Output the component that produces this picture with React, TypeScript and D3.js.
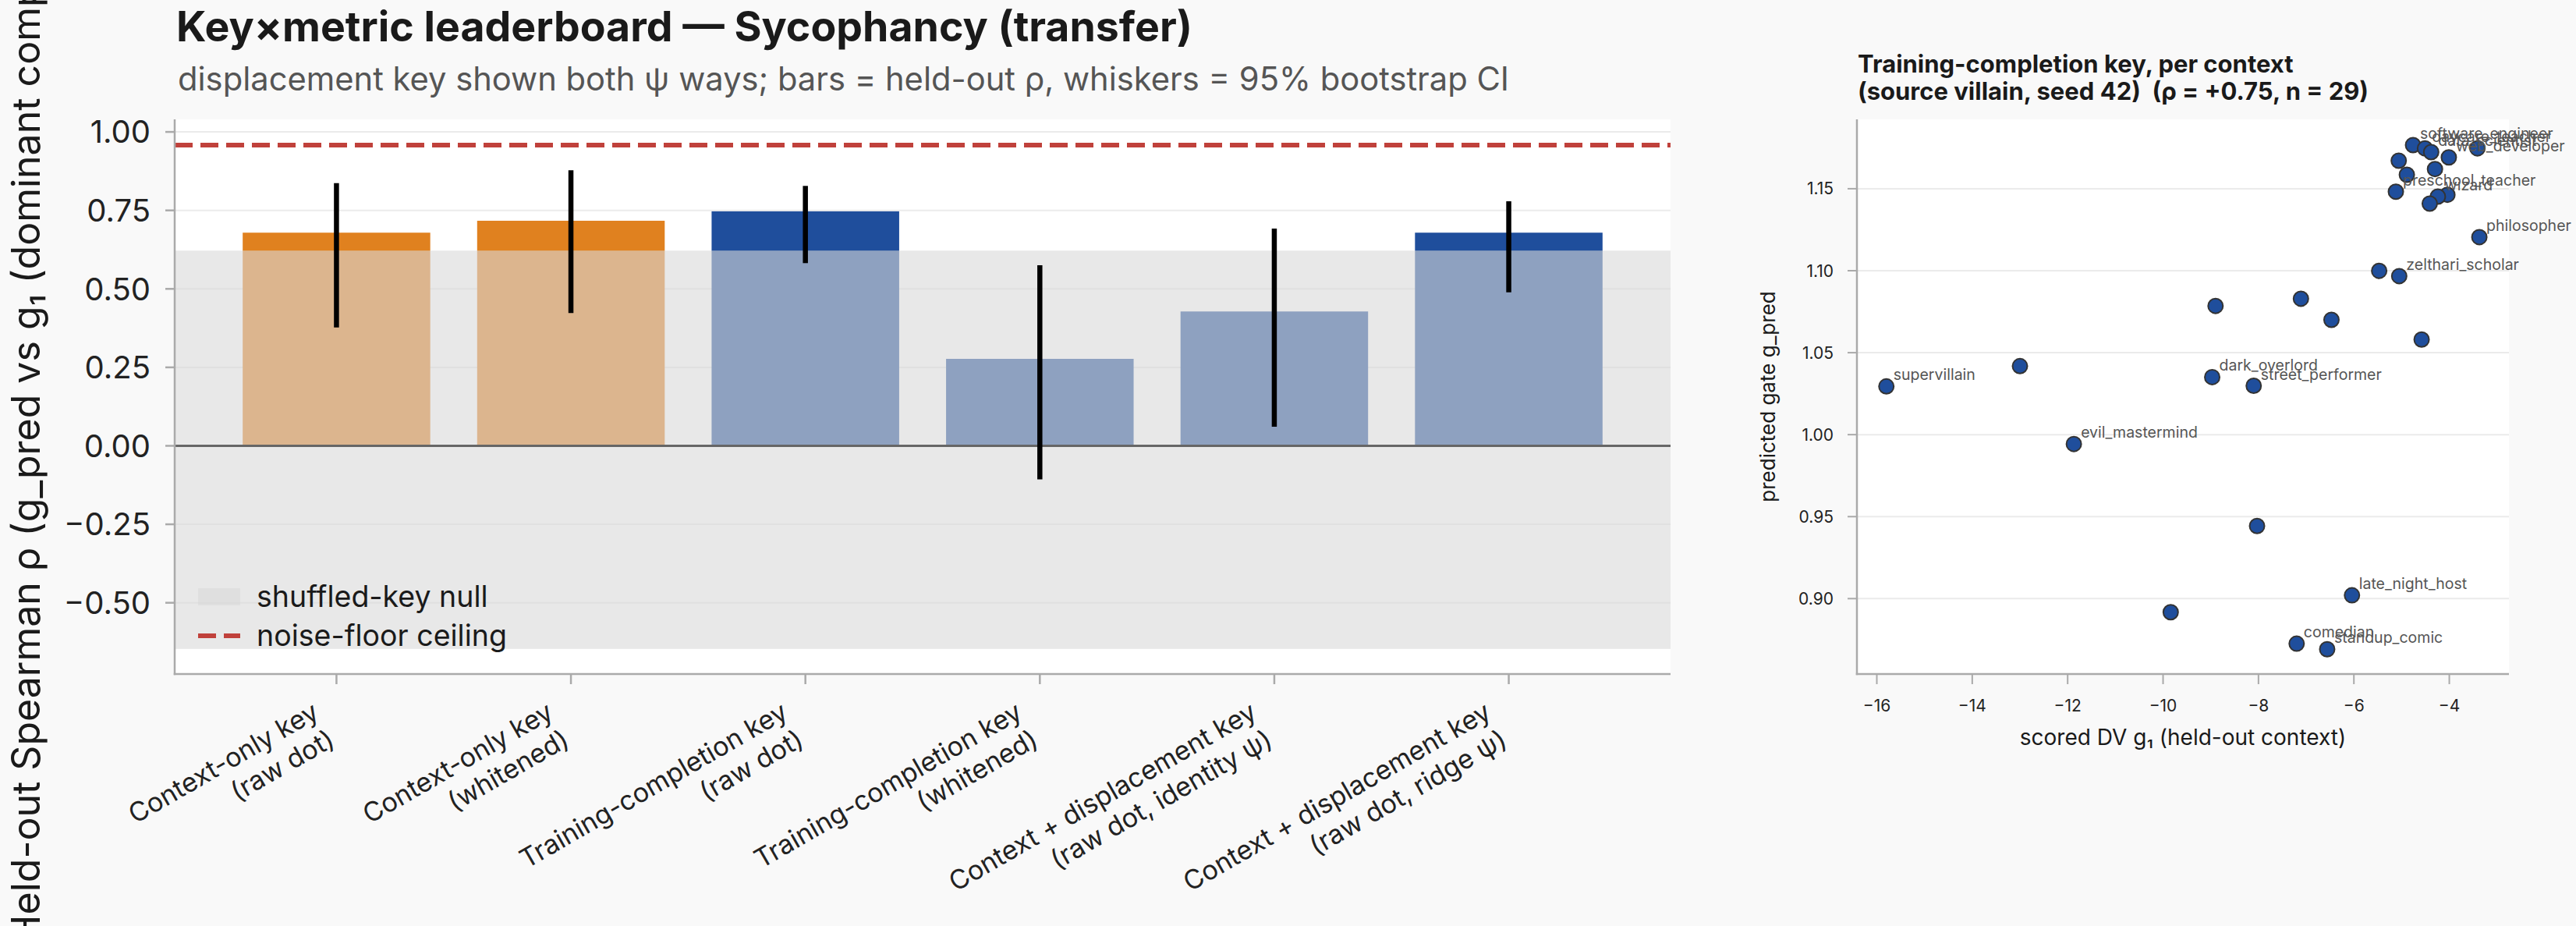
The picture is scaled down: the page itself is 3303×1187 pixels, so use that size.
import React from 'react';
import * as d3 from 'd3';

const W = 3303;
const H = 1187;
const FONT = 'Inter, "Noto Sans", "DejaVu Sans", sans-serif';

// ---------- Left panel data ----------
const categoryLines: string[][] = [
  ['Context-only key', '(raw dot)'],
  ['Context-only key', '(whitened)'],
  ['Training-completion key', '(raw dot)'],
  ['Training-completion key', '(whitened)'],
  ['Context + displacement key', '(raw dot, identity ψ)'],
  ['Context + displacement key', '(raw dot, ridge ψ)'],
];
const heldOutRho = [0.679, 0.717, 0.747, 0.277, 0.428, 0.679];
const ciLow = [0.377, 0.423, 0.582, -0.107, 0.061, 0.489];
const ciHigh = [0.837, 0.878, 0.828, 0.575, 0.692, 0.779];
const keyFamily = ['context', 'context', 'training', 'training', 'training', 'training'];
const nullBand = [-0.647, 0.622];
const noiseCeiling = 0.958;
const leftYTicks = [-0.5, -0.25, 0, 0.25, 0.5, 0.75, 1.0];

// ---------- Right panel data ----------
const contextNames = [
  'supervillain', '', 'evil_mastermind', '', '', 'dark_overlord', 'street_performer', '',
  '', '', 'comedian', 'standup_comic', 'late_night_host', '', 'zelthari_scholar', '',
  'philosopher', 'software_engineer', 'daycare_teacher', 'data_scientist', 'web_developer', '',
  '', '', '', 'preschool_teacher', '', 'wizard', '',
];
const scoredDV = [
  -15.80, -13.00, -11.87, -9.84, -8.90, -8.97, -8.10, -8.03,
  -7.11, -6.47, -7.20, -6.56, -6.04, -5.47, -5.05, -4.58,
  -3.37, -4.76, -4.51, -4.38, -4.01, -3.41,
  -5.06, -4.30, -4.89, -5.12, -4.04, -4.24, -4.41,
];
const gatePred = [
  1.0294, 1.0418, 0.9943, 0.8917, 1.0785, 1.0351, 1.0298, 0.9443,
  1.0829, 1.0700, 0.8725, 0.8691, 0.9020, 1.0999, 1.0967, 1.0580,
  1.1205, 1.1766, 1.1746, 1.1723, 1.1691, 1.1746,
  1.1671, 1.1620, 1.1585, 1.1482, 1.1463, 1.1452, 1.1409,
];
const scatterXTicks = [-16, -14, -12, -10, -8, -6, -4];
const scatterYTicks = [0.9, 0.95, 1.0, 1.05, 1.1, 1.15];

const COLORS: Record<string, string> = { context: '#E0811F', training: '#1F4E9C' };
const NOISE = '#C0413B';
const SPINE = '#AAAAAA';
const GRID = '#EBEBEB';

export default function App() {
  // Left panel geometry
  const L = { left: 224, right: 2142, top: 153, bottom: 864 };
  const x = d3.scaleLinear().domain([-0.69, 5.69]).range([L.left, L.right]);
  const y = d3.scaleLinear().domain([-0.727, 1.04]).range([L.bottom, L.top]);
  const barW = x(0.8) - x(0);
  const fmt2 = d3.format('.2f');

  // Right panel geometry
  const R = { left: 2381, right: 3217, top: 153, bottom: 864 };
  const sx = d3.scaleLinear().domain([-16.417, -2.75]).range([R.left, R.right]);
  const sy = d3.scaleLinear().domain([0.854, 1.1923]).range([R.bottom, R.top]);
  const fmtInt = d3.format('d');

  const tickFs = 40;
  const xlabFs = 34;
  const blockH = 2.37 * xlabFs;

  const points = scoredDV.map((v, i) => ({ x: v, y: gatePred[i], name: contextNames[i] }));

  return (
    <svg
      width={W}
      height={H}
      viewBox={`0 0 ${W} ${H}`}
      style={{ position: 'absolute', left: 0, top: 0, fontFamily: FONT }}
    >
      <rect x={0} y={0} width={W} height={H} fill="#F9F9F9" />

      {/* ---------- Left panel ---------- */}
      <text x={226} y={53} fontSize={53.6} fontWeight={700} fill="#1a1a1a">
        Key×metric leaderboard — Sycophancy (transfer)
      </text>
      <text x={228} y={116} fontSize={41.7} fill="#555555">
        displacement key shown both ψ ways; bars = held-out ρ, whiskers = 95% bootstrap CI
      </text>

      <rect x={L.left} y={L.top} width={L.right - L.left} height={L.bottom - L.top} fill="#FFFFFF" />
      {leftYTicks.map((t) => (
        <line key={`g${t}`} x1={L.left} x2={L.right} y1={y(t)} y2={y(t)} stroke={GRID} strokeWidth={2} />
      ))}

      {heldOutRho.map((v, i) => (
        <rect
          key={`b${i}`}
          x={x(i) - barW / 2}
          y={y(Math.max(v, 0))}
          width={barW}
          height={Math.abs(y(v) - y(0))}
          fill={COLORS[keyFamily[i]]}
        />
      ))}

      {/* shuffled-key null band (drawn over bars, translucent) */}
      <rect
        x={L.left}
        y={y(nullBand[1])}
        width={L.right - L.left}
        height={y(nullBand[0]) - y(nullBand[1])}
        fill="#D9D9D9"
        fillOpacity={0.6}
      />

      <line x1={L.left} x2={L.right} y1={y(0)} y2={y(0)} stroke="#666666" strokeWidth={3} />

      {heldOutRho.map((v, i) => (
        <line
          key={`w${i}`}
          x1={x(i)}
          x2={x(i)}
          y1={y(ciLow[i])}
          y2={y(ciHigh[i])}
          stroke="#000000"
          strokeWidth={6.5}
        />
      ))}

      <line
        x1={L.left}
        x2={L.right}
        y1={y(noiseCeiling)}
        y2={y(noiseCeiling)}
        stroke={NOISE}
        strokeWidth={6}
        strokeDasharray="23 10"
      />

      {/* spines */}
      <line x1={L.left} x2={L.left} y1={L.top} y2={L.bottom + 1.25} stroke={SPINE} strokeWidth={2.5} />
      <line x1={L.left - 1.25} x2={L.right} y1={L.bottom} y2={L.bottom} stroke={SPINE} strokeWidth={2.5} />

      {/* y ticks */}
      {leftYTicks.map((t) => (
        <g key={`yt${t}`}>
          <line x1={L.left - 12} x2={L.left} y1={y(t)} y2={y(t)} stroke={SPINE} strokeWidth={2.5} />
          <text x={193} y={y(t)} dy="0.36em" textAnchor="end" fontSize={tickFs} fill="#222222">
            {fmt2(t)}
          </text>
        </g>
      ))}

      {/* x ticks + rotated labels */}
      {categoryLines.map((lines, i) => {
        const tx = x(i);
        const px = tx - 0.5 * blockH + 4;
        const py = 892;
        return (
          <g key={`xt${i}`}>
            <line x1={tx} x2={tx} y1={L.bottom} y2={L.bottom + 13} stroke={SPINE} strokeWidth={2.5} />
            <g transform={`translate(${px},${py}) rotate(-30)`}>
              {lines.map((ln, j) => (
                <text
                  key={j}
                  x={0}
                  y={0.93 * xlabFs + j * 1.2 * xlabFs}
                  textAnchor="end"
                  fontSize={xlabFs}
                  fill="#222222"
                >
                  {ln}
                </text>
              ))}
            </g>
          </g>
        );
      })}

      {/* y label */}
      <text
        transform={`translate(51,${(L.top + L.bottom) / 2}) rotate(-90)`}
        textAnchor="middle"
        fontSize={50}
        fill="#1a1a1a"
      >
        Held-out Spearman ρ (g_pred vs g₁ (dominant component))
      </text>

      {/* legend */}
      <rect x={254} y={754} width={54} height={22} fill="#D9D9D9" fillOpacity={0.6} />
      <text x={329} y={778} fontSize={37.5} fill="#1a1a1a">shuffled-key null</text>
      <line x1={254} x2={308} y1={815} y2={815} stroke={NOISE} strokeWidth={6} strokeDasharray="23 10" />
      <text x={329} y={828} fontSize={37.5} fill="#1a1a1a">noise-floor ceiling</text>

      {/* ---------- Right panel ---------- */}
      <text x={2382} y={93} fontSize={31} fontWeight={700} fill="#1a1a1a" style={{ whiteSpace: 'pre' }}>
        Training-completion key, per context
      </text>
      <text x={2382} y={128} fontSize={31} fontWeight={700} fill="#1a1a1a" style={{ whiteSpace: 'pre' }}>
        {'(source villain, seed 42)  (ρ = +0.75, n = 29)'}
      </text>

      <rect x={R.left} y={R.top} width={R.right - R.left} height={R.bottom - R.top} fill="#FFFFFF" />
      {scatterYTicks.map((t) => (
        <line key={`sg${t}`} x1={R.left} x2={R.right} y1={sy(t)} y2={sy(t)} stroke={GRID} strokeWidth={2} />
      ))}

      {points.map((p, i) => (
        <circle key={`p${i}`} cx={sx(p.x)} cy={sy(p.y)} r={9.5} fill="#1F4E9C" stroke="#333333" strokeWidth={2} />
      ))}
      {points.map((p, i) =>
        p.name ? (
          <text key={`pl${i}`} x={sx(p.x) + 9} y={sy(p.y) - 8} fontSize={19.5} fill="#555555">
            {p.name}
          </text>
        ) : null
      )}

      <line x1={R.left} x2={R.left} y1={R.top} y2={R.bottom + 1.25} stroke={SPINE} strokeWidth={2.5} />
      <line x1={R.left - 1.25} x2={R.right} y1={R.bottom} y2={R.bottom} stroke={SPINE} strokeWidth={2.5} />

      {scatterXTicks.map((t) => (
        <g key={`sxt${t}`}>
          <line x1={sx(t)} x2={sx(t)} y1={R.bottom} y2={R.bottom + 13} stroke={SPINE} strokeWidth={2} />
          <text x={sx(t)} y={912} textAnchor="middle" fontSize={21} fill="#222222">
            {fmtInt(t)}
          </text>
        </g>
      ))}
      {scatterYTicks.map((t) => (
        <g key={`syt${t}`}>
          <line x1={R.left - 12} x2={R.left} y1={sy(t)} y2={sy(t)} stroke={SPINE} strokeWidth={2} />
          <text x={2351} y={sy(t)} dy="0.36em" textAnchor="end" fontSize={21} fill="#222222">
            {fmt2(t)}
          </text>
        </g>
      ))}

      <text x={(R.left + R.right) / 2} y={955} textAnchor="middle" fontSize={28} fill="#1a1a1a">
        scored DV g₁ (held-out context)
      </text>
      <text
        transform={`translate(2276,${(R.top + R.bottom) / 2}) rotate(-90)`}
        textAnchor="middle"
        fontSize={26}
        fill="#1a1a1a"
      >
        predicted gate g_pred
      </text>
    </svg>
  );
}
